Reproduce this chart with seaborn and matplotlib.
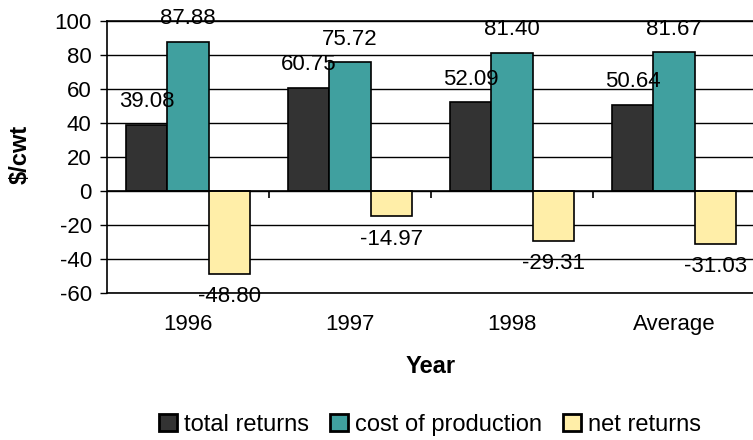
import pandas as pd
import seaborn as sns
import matplotlib.pyplot as plt

years = ["1996", "1997", "1998", "Average"]
series = ["total returns", "cost of production", "net returns"]
total_returns = [39.08, 60.75, 52.09, 50.64]
cost_of_production = [87.88, 75.72, 81.40, 81.67]
net_returns = [-48.80, -14.97, -29.31, -31.03]

colors = ["#333333", "#40A09F", "#FFEEA8"]

df = pd.DataFrame({
    "Year": years * 3,
    "series": [s for s in series for _ in years],
    "value": total_returns + cost_of_production + net_returns,
})

sns.set_style("white")
plt.rcParams["font.family"] = ["Liberation Sans", "DejaVu Sans"]
plt.rcParams["font.size"] = 16
plt.rcParams["axes.unicode_minus"] = False
for key in ["text.color", "axes.labelcolor", "xtick.color", "ytick.color"]:
    plt.rcParams[key] = "black"

fig = plt.figure(figsize=(7.53, 4.4), dpi=100)
ax = fig.add_axes([107 / 753, 1 - 293 / 440, 648 / 753, 272 / 440])

ax.set_axisbelow(True)
ax.yaxis.grid(True, color="black", linewidth=1)

sns.barplot(
    data=df, x="Year", y="value", hue="series", order=years, hue_order=series,
    palette=colors, saturation=1, edgecolor="black", linewidth=1.2, width=0.77,
    gap=0, errorbar=None, ax=ax,
)

for cont in ax.containers:
    ax.bar_label(cont, fmt="%.2f", padding=9, fontsize=16, color="black")

ax.set_ylim(-60, 100)
ax.set_yticks(range(-60, 101, 20))
ax.set_xlim(-0.5, 3.5)
ax.axhline(0, color="black", linewidth=1.2)

for side in ["left", "bottom", "top", "right"]:
    ax.spines[side].set_visible(True)
    ax.spines[side].set_color("black")
    ax.spines[side].set_linewidth(1.2)

ax.tick_params(axis="y", left=True, direction="out", length=5, width=1, pad=6,
               labelsize=16, colors="black")
ax.tick_params(axis="x", bottom=True, length=0, pad=15, labelsize=16, colors="black")

# category separators on the zero line
sec = ax.secondary_xaxis(60 / 160)
sec.set_xticks([0.5, 1.5, 2.5])
sec.set_xticklabels([])
sec.tick_params(axis="x", direction="out", length=5, width=1.2, color="black")
sec.spines["bottom"].set_visible(False)

ax.set_ylabel("$/cwt", fontweight="bold", fontsize=17, color="black")
ax.yaxis.label.set_va("center")
ax.yaxis.set_label_coords(-0.134, 0.508)
ax.set_xlabel("Year", fontweight="bold", fontsize=17, color="black")
ax.xaxis.label.set_va("center")
ax.xaxis.set_label_coords(0.5, -0.272)

handles, labels = ax.get_legend_handles_labels()
ax.get_legend().remove()
leg = fig.legend(
    handles, labels, loc="center", bbox_to_anchor=(430 / 753, 1 - 425 / 440),
    ncol=3, frameon=False, fontsize=17, handlelength=0.75, handleheight=0.7,
    handletextpad=0.3, columnspacing=0.9,
)
for h in leg.legend_handles:
    h.set_linewidth(2)

fig.savefig("out.png", dpi=100)
